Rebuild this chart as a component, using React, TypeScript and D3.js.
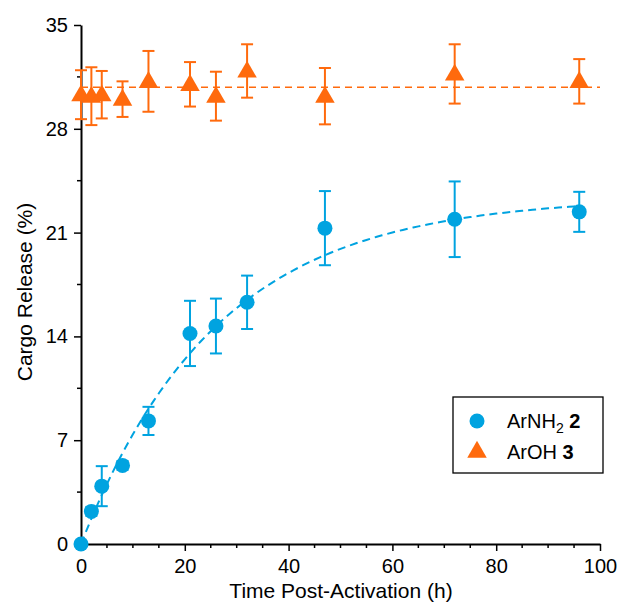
import React, { useRef, useEffect } from "react";
import { select, scaleLinear, axisLeft, axisBottom, line, range, symbol, symbolTriangle } from "d3";

// sampling times (h)
const times = [0, 2, 4, 8, 13, 21, 26, 32, 47, 72, 96];
// ArNH2 2 release (%) and error
const amineValues = [0, 2.2, 3.9, 5.3, 8.3, 14.2, 14.7, 16.3, 21.3, 21.9, 22.4];
const amineErrors = [0, 0.3, 1.35, 0.3, 0.95, 2.2, 1.85, 1.8, 2.5, 2.55, 1.35];
// ArOH 3 release (%) and error
const phenolValues = [30.3, 30.2, 30.3, 30.0, 31.2, 31.0, 30.2, 31.9, 30.2, 31.7, 31.2];
const phenolErrors = [1.65, 1.95, 1.6, 1.2, 2.05, 1.5, 1.65, 1.8, 1.9, 2.0, 1.5];
// fit parameters: y = A (1 - exp(-k t)) for amine, constant mean for phenol
const amineFit = { A: 23.4, k: 0.038, tMax: 96 };
const phenolMean = 30.8;

const yTicks = [0, 7, 14, 21, 28, 35];
const xTicks = [0, 20, 40, 60, 80, 100];

const BLUE = "#00A3E0";
const ORANGE = "#FF6A0D";

export default function App() {
  const svgRef = useRef<SVGSVGElement>(null);

  useEffect(() => {
    const svg = select(svgRef.current);
    svg.selectAll("*").remove();
    const x = scaleLinear().domain([0, 100]).range([81, 600]);
    const y = scaleLinear().domain([0, 35]).range([544, 25]);
    const font = "'Liberation Sans', Arial, sans-serif";

    // minor ticks
    svg.append("g").selectAll("line")
      .data(range(0, 35.01, 3.5).filter(v => !yTicks.includes(v)))
      .join("line")
      .attr("x1", 81).attr("x2", 77)
      .attr("y1", d => y(d)).attr("y2", d => y(d))
      .attr("stroke", "#000").attr("stroke-width", 1.5);
    svg.append("g").selectAll("line")
      .data(range(0, 100.01, 5).filter(v => !xTicks.includes(v)))
      .join("line")
      .attr("x1", d => x(d)).attr("x2", d => x(d))
      .attr("y1", 544).attr("y2", 548)
      .attr("stroke", "#000").attr("stroke-width", 1.5);

    const gy = svg.append("g").attr("transform", "translate(81,0)")
      .call(axisLeft(y).tickValues(yTicks).tickSize(7).tickSizeOuter(0).tickPadding(6));
    const gx = svg.append("g").attr("transform", "translate(0,544)")
      .call(axisBottom(x).tickValues(xTicks).tickSize(7).tickSizeOuter(0).tickPadding(8));
    [gy, gx].forEach(g => {
      g.select(".domain").attr("stroke-width", 2);
      g.selectAll(".tick line").attr("stroke-width", 1.5);
      g.selectAll(".tick text").attr("font-family", font).attr("font-size", 20).attr("fill", "#000");
    });

    svg.append("text").attr("x", 341).attr("y", 598).attr("text-anchor", "middle")
      .attr("font-family", font).attr("font-size", 21).text("Time Post-Activation (h)");
    svg.append("text").attr("transform", "translate(32,292) rotate(-90)").attr("text-anchor", "middle")
      .attr("font-family", font).attr("font-size", 21).text("Cargo Release (%)");

    // fit lines
    svg.append("line")
      .attr("x1", x(0)).attr("x2", x(100))
      .attr("y1", y(phenolMean)).attr("y2", y(phenolMean))
      .attr("stroke", ORANGE).attr("stroke-width", 1.5).attr("stroke-dasharray", "7,5");
    const fitT = range(0, amineFit.tMax + 0.01, 1);
    svg.append("path")
      .attr("d", line<number>().x(t => x(t)).y(t => y(amineFit.A * (1 - Math.exp(-amineFit.k * t))))(fitT))
      .attr("fill", "none").attr("stroke", BLUE).attr("stroke-width", 2).attr("stroke-dasharray", "8,5");

    const drawSeries = (vals: number[], errs: number[], color: string, marker: "circle" | "triangle") => {
      const g = svg.append("g");
      times.forEach((t, i) => {
        const cx = x(t);
        const top = y(vals[i] + errs[i]);
        const bot = y(vals[i] - errs[i]);
        if (errs[i] > 0) {
          g.append("line").attr("x1", cx).attr("x2", cx).attr("y1", top).attr("y2", bot)
            .attr("stroke", color).attr("stroke-width", 2);
          [top, bot].forEach(yy => g.append("line")
            .attr("x1", cx - 6).attr("x2", cx + 6).attr("y1", yy).attr("y2", yy)
            .attr("stroke", color).attr("stroke-width", 2));
        }
        if (marker === "circle") {
          g.append("circle").attr("cx", cx).attr("cy", y(vals[i])).attr("r", 7.5).attr("fill", color);
        } else {
          g.append("path").attr("d", symbol(symbolTriangle, 165)())
            .attr("transform", `translate(${cx},${y(vals[i]) + 1})`).attr("fill", color);
        }
      });
    };
    drawSeries(phenolValues, phenolErrors, ORANGE, "triangle");
    drawSeries(amineValues, amineErrors, BLUE, "circle");

    // legend
    const lg = svg.append("g");
    lg.append("rect").attr("x", 453).attr("y", 397).attr("width", 150).attr("height", 76)
      .attr("fill", "#fff").attr("stroke", "#000").attr("stroke-width", 1.3);
    lg.append("circle").attr("cx", 477).attr("cy", 421).attr("r", 7.5).attr("fill", BLUE);
    lg.append("path").attr("d", symbol(symbolTriangle, 165)())
      .attr("transform", "translate(477,452)").attr("fill", ORANGE);
    const t1 = lg.append("text").attr("x", 507).attr("y", 428).attr("font-family", font).attr("font-size", 20);
    t1.append("tspan").text("ArNH");
    t1.append("tspan").attr("font-size", 14).attr("dy", 5).text("2");
    t1.append("tspan").attr("dy", -5).attr("font-weight", "bold").text(" 2");
    const t2 = lg.append("text").attr("x", 507).attr("y", 459).attr("font-family", font).attr("font-size", 20);
    t2.append("tspan").text("ArOH ");
    t2.append("tspan").attr("font-weight", "bold").text("3");
  }, []);

  return (
    <div style={{ position: "absolute", left: 0, top: 0 }}>
      <svg ref={svgRef} width={620} height={607} style={{ display: "block", background: "#fff" }} />
    </div>
  );
}
